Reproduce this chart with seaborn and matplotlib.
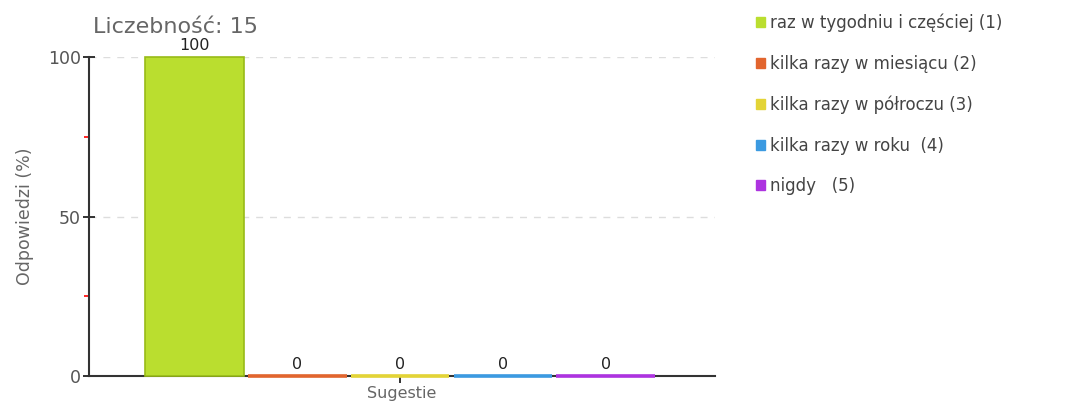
import matplotlib
matplotlib.use("Agg")
import matplotlib.pyplot as plt
import seaborn as sns
import pandas as pd
from matplotlib.ticker import FixedLocator
from matplotlib.patches import Patch

categories = ["raz w tygodniu i częściej (1)", "kilka razy w miesiącu (2)",
              "kilka razy w półroczu (3)", "kilka razy w roku  (4)", "nigdy   (5)"]
values = [100, 0, 0, 0, 0]
group = "Sugestie"
title = "Liczebność: 15"
ylabel = "Odpowiedzi (%)"
colors = ["#bade2f", "#e2652e", "#e3d436", "#3b9ae1", "#ad33e0"]
edges = ["#98bb18", "#e2652e", "#e3d436", "#3b9ae1", "#ad33e0"]

df = pd.DataFrame({"group": [group] * len(values), "cat": categories, "value": values})

sns.set_theme(style="white")
plt.rcParams["font.family"] = ["DejaVu Sans"]

fig = plt.figure(figsize=(10.73, 4.07), dpi=100)
ax = fig.add_axes([89 / 1073, 1 - 376 / 407, (715 - 89) / 1073, (376 - 57) / 407])

sns.barplot(data=df, x="group", y="value", hue="cat", palette=colors, ax=ax,
            width=0.8, gap=0.04, legend=False, saturation=1)

for p, e in zip(ax.patches, edges):
    p.set_edgecolor(e)
    p.set_zorder(3)
    p.set_clip_on(False)
    p.set_linewidth(1.2 if p.get_height() > 0 else 2.6)

for c in ax.containers:
    ax.bar_label(c, fmt="%d", padding=3, fontsize=11.5, color="#222222")

ax.set_xlim(-0.484, 0.490)
ax.set_ylim(0, 100)
ax.yaxis.set_major_locator(FixedLocator([0, 50, 100]))
ax.yaxis.set_minor_locator(FixedLocator([25, 75]))
ax.tick_params(axis="y", which="major", direction="inout", length=8, width=1.2,
               color="#111111", labelsize=12.5, labelcolor="#555555", pad=2, left=True)
ax.tick_params(axis="y", which="minor", direction="out", length=3.6, width=1.2,
               color="#ff0000", left=True)
ax.tick_params(axis="x", which="major", direction="out", length=5, width=1.2,
               color="#111111", labelsize=10, labelcolor="#555555", bottom=True, pad=0)
ax.set_xticklabels([])
ax.set_xlabel(group, fontsize=11.5, color="#666666", labelpad=2.5)
ax.set_ylabel(ylabel, fontsize=12.5, color="#666666", labelpad=10)

for y in [50, 100]:
    ax.axhline(y, color="#dddddd", linestyle=(0, (5, 5)), linewidth=1, zorder=0)

for s in ["top", "right"]:
    ax.spines[s].set_visible(False)
for s in ["left", "bottom"]:
    ax.spines[s].set_color("#333333")
    ax.spines[s].set_linewidth(1.5)

fig.text(93 / 1073, 1 - 27 / 407, title, fontsize=16, color="#666666", va="center", ha="left")

handles = [Patch(facecolor=c, edgecolor=c) for c in colors]
fig.legend(handles, categories, loc="upper left", bbox_to_anchor=(749 / 1073, 1 - 7 / 407),
           frameon=False, fontsize=12, labelcolor="#444444", handlelength=0.55,
           handleheight=0.55, handletextpad=0.3, labelspacing=1.36, borderaxespad=0)

fig.savefig("out.png", dpi=100)
